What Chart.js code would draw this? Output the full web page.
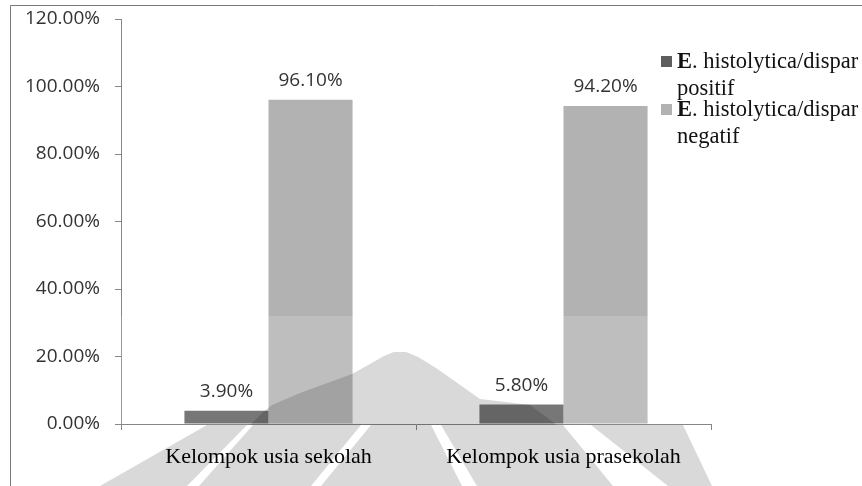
<!DOCTYPE html>
<html>
<head>
<meta charset="utf-8">
<script src="https://cdn.jsdelivr.net/npm/chart.js@4.4.1/dist/chart.umd.min.js"></script>
<style>
  html, body { margin: 0; padding: 0; background: #ffffff; }
  #wrap { width: 862px; height: 486px; position: relative; }
</style>
</head>
<body>
<div id="wrap"><canvas id="chart" width="862" height="486"></canvas></div>
<script>
// Categories and series values (percent)
const categories = ['Kelompok usia sekolah', 'Kelompok usia prasekolah'];
const positif = [3.9, 5.8];
const negatif = [96.1, 94.2];
const seriesLegend = [
  ['E', '. histolytica/dispar', 'positif'],
  ['E', '. histolytica/dispar', 'negatif']
];
const yTicks = [0, 20, 40, 60, 80, 100, 120];

const DARK = '#5e5e5e';
const LIGHT = '#b2b2b2';
const AXIS = '#868686';

// Outer frame on the top and left edges
const framePlugin = {
  id: 'frame',
  beforeDraw(chart) {
    const ctx = chart.ctx;
    ctx.save();
    ctx.fillStyle = '#ffffff';
    ctx.fillRect(0, 0, chart.width, chart.height);
    ctx.strokeStyle = '#7a7a7a';
    ctx.lineWidth = 1;
    ctx.beginPath();
    ctx.moveTo(10.5, chart.height);
    ctx.lineTo(10.5, 5.5);
    ctx.lineTo(chart.width, 5.5);
    ctx.stroke();
    ctx.restore();
  }
};

// Faint logo stamp over the lower part of the chart
const stampPlugin = {
  id: 'stamp',
  afterDatasetsDraw(chart) {
    const ctx = chart.ctx;
    const a = chart.chartArea;
    const y = chart.scales.y;
    ctx.save();
    // pale wash over the lower bars
    const washTop = y.getPixelForValue(32);
    ctx.beginPath();
    ctx.rect(a.left, washTop, a.right - a.left, a.bottom - washTop);
    ctx.clip();
    ctx.fillStyle = 'rgba(255,255,255,0.16)';
    ctx.fillRect(a.left, 0, a.right - a.left, a.bottom);
    ctx.restore();

    ctx.save();
    ctx.globalCompositeOperation = 'multiply';
    ctx.fillStyle = '#d9d9d9';
    // mountain peak
    const peak = [[250, 425], [262, 413], [272, 405], [300, 393], [352, 374], [370, 364],
                  [384, 356], [394, 352], [406, 352], [418, 357], [436, 368], [480, 399],
                  [530, 405], [557, 425]];
    ctx.beginPath();
    peak.forEach((p, i) => i ? ctx.lineTo(p[0], p[1]) : ctx.moveTo(p[0], p[1]));
    ctx.closePath();
    ctx.fill();
    // rays below the baseline
    const top = 425, bot = chart.height;
    const rays = [
      [207, 247, 100, 187],
      [253, 361, 199, 311],
      [371, 431, 321, 462],
      [441, 563, 477, 613],
      [591, 683, 668, 712]
    ];
    rays.forEach(r => {
      ctx.beginPath();
      ctx.moveTo(r[0], top);
      ctx.lineTo(r[1], top);
      ctx.lineTo(r[3], bot);
      ctx.lineTo(r[2], bot);
      ctx.closePath();
      ctx.fill();
    });
    ctx.restore();
  }
};

// Value labels above each bar
const valueLabels = {
  id: 'valueLabels',
  afterDatasetsDraw(chart) {
    const ctx = chart.ctx;
    ctx.save();
    ctx.font = '19px "Open Sans"';
    ctx.fillStyle = '#333333';
    ctx.textAlign = 'center';
    ctx.textBaseline = 'middle';
    chart.data.datasets.forEach((ds, di) => {
      const meta = chart.getDatasetMeta(di);
      meta.data.forEach((bar, i) => {
        ctx.fillText(ds.data[i].toFixed(2) + '%', bar.x, bar.y - 19);
      });
    });
    ctx.restore();
  }
};

// Two-line legend on the right
const sideLegend = {
  id: 'sideLegend',
  afterDraw(chart) {
    const ctx = chart.ctx;
    ctx.save();
    ctx.textBaseline = 'middle';
    ctx.textAlign = 'left';
    chart.data.datasets.forEach((ds, i) => {
      const cy = 62 + i * 48;
      const x = chart.chartArea.right - 50;
      ctx.fillStyle = ds.backgroundColor;
      ctx.fillRect(x, cy - 6, 11, 11);
      const tx = x + 16;
      const parts = seriesLegend[i];
      ctx.fillStyle = '#111111';
      ctx.font = 'bold 22.5px "Liberation Serif"';
      ctx.fillText(parts[0], tx, cy);
      const w = ctx.measureText(parts[0]).width;
      ctx.font = '22.5px "Liberation Serif"';
      ctx.fillText(parts[1], tx + w, cy);
      ctx.fillText(parts[2], tx, cy + 27);
    });
    ctx.restore();
  }
};

new Chart(document.getElementById('chart'), {
  type: 'bar',
  data: {
    labels: categories,
    datasets: [
      { label: seriesLegend[0].join(''), data: positif, backgroundColor: DARK },
      { label: seriesLegend[1].join(''), data: negatif, backgroundColor: LIGHT }
    ]
  },
  options: {
    responsive: false,
    animation: false,
    devicePixelRatio: 1,
    layout: { padding: { top: 19, right: 151, bottom: 0, left: 0 } },
    datasets: { bar: { categoryPercentage: 0.57, barPercentage: 1.0 } },
    plugins: {
      legend: { display: false },
      tooltip: { enabled: false }
    },
    scales: {
      x: {
        grid: { offset: true, drawOnChartArea: false, drawTicks: true, tickLength: 6, color: AXIS },
        border: { color: AXIS },
        ticks: { color: '#000000', font: { family: '"Liberation Serif"', size: 22 }, padding: 14, maxRotation: 0 },
        afterFit(s) { s.height = 62; s.paddingLeft = 0; s.paddingRight = 0; }
      },
      y: {
        min: yTicks[0],
        max: yTicks[yTicks.length - 1],
        afterBuildTicks(s) { s.ticks = yTicks.map(v => ({ value: v })); },
        grid: { drawOnChartArea: false, drawTicks: true, tickLength: 6, color: AXIS },
        border: { color: AXIS },
        ticks: {
          color: '#333333',
          font: { family: '"Open Sans"', size: 19 },
          padding: 15,
          callback: v => v.toFixed(2) + '%'
        },
        afterFit(s) { s.width = 121; s.paddingTop = 0; s.paddingBottom = 0; }
      }
    }
  },
  plugins: [framePlugin, stampPlugin, valueLabels, sideLegend]
});
</script>
</body>
</html>
